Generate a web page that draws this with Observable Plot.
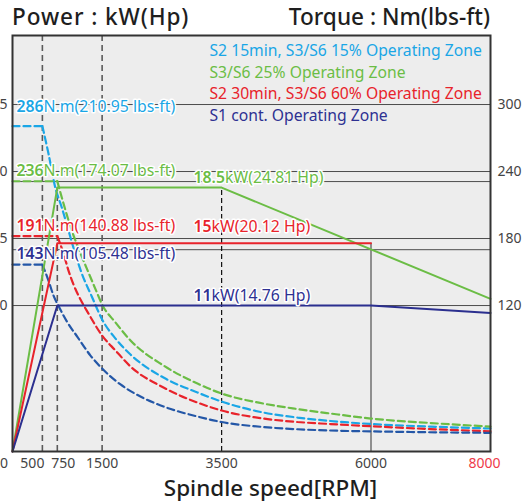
<!DOCTYPE html>
<html>
<head>
<meta charset="utf-8">
<script src="https://cdn.jsdelivr.net/npm/d3@7"></script>
<script src="https://cdn.jsdelivr.net/npm/@observablehq/plot@0.6"></script>
<style>
  body { margin: 0; background: #fff; font-family: "Noto Sans", sans-serif; }
  #wrap { position: relative; width: 523px; height: 503px; overflow: hidden; }
  .title { position: absolute; top: 1px; font-size: 22.6px; color: #1e1e1e; font-weight: 500; white-space: nowrap; }
  #chart { position: absolute; top: 33px; left: 0; }
</style>
</head>
<body>
<div id="wrap">
  <div class="title" style="left:12px; letter-spacing:0.9px">Power : kW(Hp)</div>
  <div class="title" style="right:33px">Torque : Nm(lbs-ft)</div>
  <div id="chart"></div>
</div>
<script>
// ---------- data ----------
const seriesNames = [
  "S2 15min, S3/S6 15% Operating Zone",
  "S3/S6 25% Operating Zone",
  "S2 30min, S3/S6 60% Operating Zone",
  "S1 cont. Operating Zone"
];
const seriesColors = ["#1aa6e6", "#6bbd45", "#e8232b", "#2e3192"];
const torqueDashColors = ["#1aa6e6", "#6bbd45", "#e8232b", "#2457a7"];

// torque curves [rpm, Nm]
const cyanTorque = [[0,280.6],[500,280.6],[602,256.1],[715,225.9],[825,207.8],[937,187.2],[1049,166.6],[1160,148.7],[1327,128.1],[1500,107.5],[1724,90.4],[1975,76.1],[2527,55.5],[3096,42.1],[3500,34.0],[4201,24.2],[4770,19.7],[5322,16.6],[6000,13.9],[6996,11.6],[8000,9.9]];
const greenTorque = [[0,231.3],[750,231.3],[854,211.3],[992,187.2],[1133,167.5],[1272,149.5],[1406,132.5],[1500,120.9],[1724,104.8],[1975,88.7],[2527,66.3],[3096,50.1],[3500,41.2],[4201,32.2],[4770,27.3],[5322,23.3],[6000,18.8],[6996,14.8],[8000,11.6]];
const redTorque = [[0,182.2],[750,182.2],[854,166.6],[937,151.3],[1021,138.8],[1138,125.4],[1272,112.8],[1500,93.1],[1724,79.7],[1975,65.4],[2527,46.6],[3096,33.1],[3500,26.0],[4201,18.8],[4770,15.7],[5322,13.9],[6000,11.9],[6996,9.4],[8000,7.4]];
const blueTorque = [[0,156.7],[500,156.7],[602,142.4],[686,129.0],[775,119.1],[920,104.8],[1083,92.2],[1305,75.2],[1500,63.6],[1808,49.3],[2142,38.5],[2527,29.6],[3096,20.6],[3500,15.7],[4201,11.2],[4770,9.2],[5322,8.1],[6494,6.9],[8000,6.0]];

// power curves [rpm, kW]
const greenPower = [[0,-0.9],[750,18.8],[3500,18.8],[8000,10.5]];
const redPower = [[0,-0.9],[750,14.65],[6000,14.65]];
const bluePower = [[0,-0.9],[750,10.0],[6000,10.0],[8000,9.45]];

const torqueLabels = ["286N.m(210.95 lbs-ft)", "236N.m(174.07 lbs-ft)", "191N.m(140.88 lbs-ft)", "143N.m(105.48 lbs-ft)"];
const powerLabels = ["18.5kW(24.81 Hp)", "15kW(20.12 Hp)", "11kW(14.76 Hp)"];
const powerLabelRpm = 3030;

const xTicks = [0, 500, 750, 1500, 3500, 6000, 8000];
const yTicksNm = [120, 180, 240, 300];      // right axis (Nm); left axis = Nm / 12 (kW)
const gridNm = [120, 170, 180, 231, 240, 300];
const fullVLines = [500, 1500];
const yDomain = [-10.7, 361.8];
const kwToY = 12;

// ---------- styles ----------
const torqueLabelDy = [-19, -10, -10.5, -11];
const powerLabelDy = [-10, -16, -10];
const xTickNudge = {0: -8.5, 500: -10, 750: 6, 8000: -6};
const legendDy = [15, 37, 58, 80];

const torqueSeries = [cyanTorque, greenTorque, redTorque, blueTorque];
const powerSeries = [
  {pts: greenPower, color: seriesColors[1]},
  {pts: redPower, color: seriesColors[2]},
  {pts: bluePower, color: "#2b2f8f"}
];

const marks = [];
marks.push(Plot.frame({fill: "#ededed", stroke: null}));
marks.push(Plot.ruleY(gridNm, {stroke: "#4d4d4d", strokeWidth: 1}));
marks.push(Plot.ruleX(fullVLines, {stroke: "#5a5a5a", strokeWidth: 1.6, strokeDasharray: "6,4"}));
// partial vertical lines derived from the curves
const vPartial = [
  {x: greenPower[1][0], top: greenPower[1][1] * kwToY, stroke: "#5a5a5a", dash: "6,4", w: 1.6},
  {x: greenPower[2][0], top: greenPower[2][1] * kwToY, stroke: "#111", dash: "5,3", w: 1.2},
  {x: redPower[2][0], top: redPower[2][1] * kwToY, stroke: "#777", dash: null, w: 1.6}
];
vPartial.forEach(v => marks.push(Plot.ruleX([v], {x: d => d.x, y1: () => yDomain[0], y2: d => d.top, stroke: v.stroke, strokeWidth: v.w, strokeDasharray: v.dash})));

// torque dashed curves
torqueSeries.forEach((s, i) => {
  const plateau = s.slice(0, 2);
  const decay = s.slice(1);
  marks.push(Plot.line(plateau, {x: d => d[0], y: d => d[1], stroke: torqueDashColors[i], strokeWidth: 2.2, strokeDasharray: "7,4"}));
  marks.push(Plot.line(decay, {x: d => d[0], y: d => d[1], stroke: torqueDashColors[i], strokeWidth: 2.2, strokeDasharray: "7,4", curve: "monotone-x"}));
});
// power solid lines
powerSeries.forEach(p => {
  marks.push(Plot.line(p.pts, {x: d => d[0], y: d => Math.max(d[1] * kwToY, yDomain[0]), stroke: p.color, strokeWidth: 2}));
});

// torque labels
torqueLabels.forEach((t, i) => {
  marks.push(Plot.text([t], {x: () => 0, y: () => torqueSeries[i][0][1], text: d => d, textAnchor: "start", dx: 4, dy: torqueLabelDy[i],
    fill: seriesColors[i], stroke: "white", strokeWidth: 3, paintOrder: "stroke", fontSize: 15.8}));
});
// power labels
powerLabels.forEach((t, i) => {
  const p = powerSeries[i];
  marks.push(Plot.text([t], {x: () => powerLabelRpm, y: () => p.pts[2][1] * kwToY, text: d => d, textAnchor: "start", dy: powerLabelDy[i],
    fill: i === 2 ? seriesColors[3] : p.color, stroke: "white", strokeWidth: 3, paintOrder: "stroke", fontSize: 15.8}));
});
// legend
seriesNames.forEach((n, i) => {
  marks.push(Plot.text([n], {frameAnchor: "top-left", text: d => d, textAnchor: "start", lineAnchor: "middle", dx: 197, dy: legendDy[i],
    fill: seriesColors[i], fontSize: 15.7}));
});
// axes
marks.push(Plot.axisY({ticks: yTicksNm, anchor: "left", tickSize: 0, tickPadding: 5, tickFormat: d => d / kwToY, label: null, fontSize: 14, color: "#444"}));
marks.push(Plot.axisY({ticks: yTicksNm, anchor: "right", tickSize: 0, tickPadding: 7, tickFormat: d => d, label: null, fontSize: 14, color: "#444"}));
xTicks.forEach(t => {
  marks.push(Plot.text([t], {x: d => d, frameAnchor: "bottom", lineAnchor: "middle", dy: 12, dx: xTickNudge[t] || 0, text: d => String(d),
    fill: t === 8000 ? "#ee3a4a" : "#444", fontSize: 14}));
});
marks.push(Plot.text(["Spindle speed[RPM]"], {frameAnchor: "bottom", lineAnchor: "middle", dx: 19, dy: 37, text: d => d, fill: "#1e1e1e", fontSize: 22.5, fontWeight: 500}));
marks.push(Plot.frame({stroke: "#333", strokeWidth: 2}));

const chart = Plot.plot({
  width: 523, height: 470,
  marginTop: 2, marginLeft: 12, marginRight: 33, marginBottom: 52,
  style: {background: "transparent", fontFamily: "'Noto Sans', sans-serif", overflow: "visible"},
  x: {domain: [0, 8000], axis: null},
  y: {domain: yDomain},
  marks
});

// semi-bold leading numbers of the value labels
d3.select(chart).selectAll("text").each(function() {
  const t = this.textContent;
  const m = t.match(/^(\d+(?:\.\d+)?)(N\.m|kW)(.*)$/);
  if (m && this.childElementCount === 0) {
    const sel = d3.select(this);
    sel.text(null);
    sel.append("tspan").attr("font-weight", 600).text(m[1]);
    sel.append("tspan").text(m[2] + m[3]);
  }
});
document.getElementById("chart").appendChild(chart);
</script>
</body>
</html>
